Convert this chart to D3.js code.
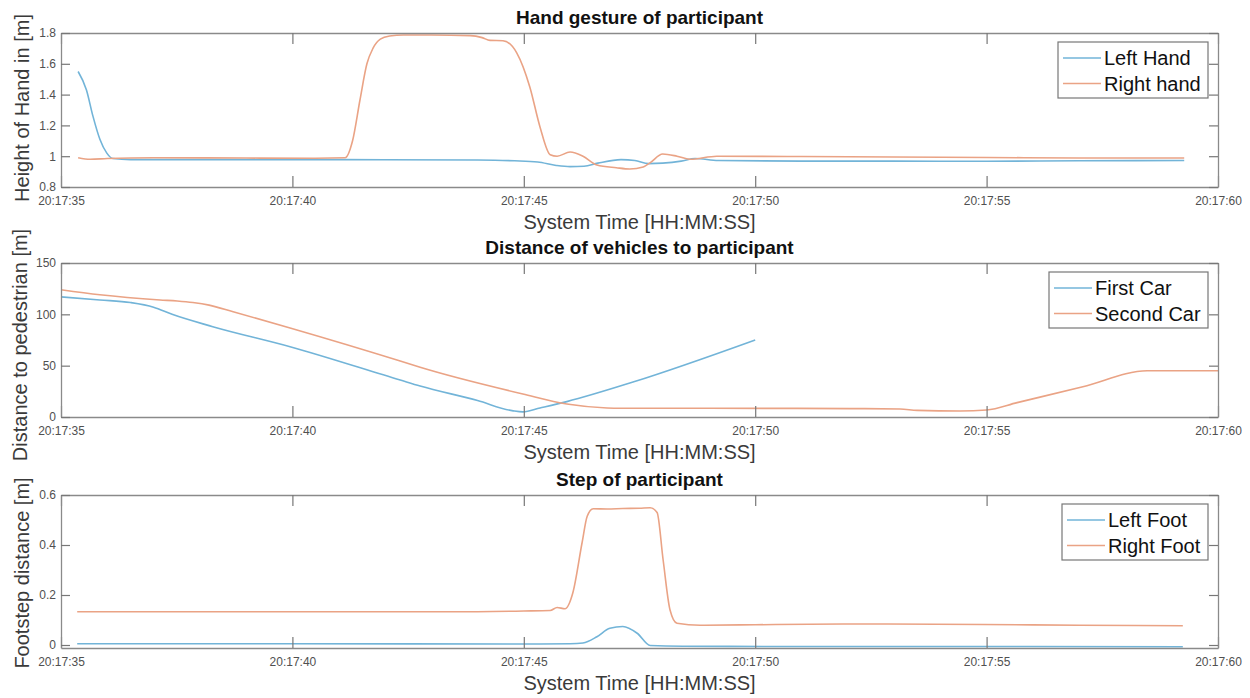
<!DOCTYPE html>
<html>
<head>
<meta charset="utf-8">
<script src="https://cdn.jsdelivr.net/npm/d3@7"></script>
<style>
  body { margin: 0; background: #fff; }
  svg { font-family: "Liberation Sans", Arial, sans-serif; }
</style>
</head>
<body>
<svg id="chart" width="1250" height="698"></svg>
<script>
'use strict';

// time in seconds after 20:17:35
var xTicks = [0, 5, 10, 15, 20, 25];

// hand gesture
var leftHandT = [0.37, 0.55, 0.69, 0.84, 0.99, 1.12, 1.5, 3, 5, 7, 9, 9.8, 10.3, 10.7, 11.0, 11.3, 11.6, 12.1, 12.4, 12.7, 13.0, 13.4, 13.7, 14.2, 16, 18, 20, 22, 24.27];
var leftHand = [1.55, 1.43, 1.26, 1.11, 1.02, 0.985, 0.978, 0.978, 0.978, 0.977, 0.975, 0.97, 0.962, 0.94, 0.932, 0.935, 0.955, 0.978, 0.972, 0.952, 0.955, 0.968, 0.985, 0.972, 0.968, 0.968, 0.967, 0.97, 0.972];
var rightHandT = [0.37, 0.63, 1.0, 2, 4, 5.5, 6.14, 6.3, 6.46, 6.61, 6.74, 6.9, 7.1, 7.4, 8, 8.84, 9.1, 9.27, 9.55, 9.85, 10.13, 10.35, 10.57, 10.72, 11.0, 11.28, 11.58, 12.0, 12.29, 12.58, 12.74, 13.0, 13.31, 13.59, 14.17, 16, 18, 20, 22, 24.27];
var rightHand = [0.99, 0.98, 0.985, 0.99, 0.988, 0.987, 0.99, 1.1, 1.365, 1.6, 1.7, 1.76, 1.78, 1.787, 1.787, 1.783, 1.77, 1.752, 1.75, 1.67, 1.45, 1.19, 1.01, 1.0, 1.027, 1.0, 0.943, 0.925, 0.917, 0.93, 0.96, 1.014, 1.0, 0.98, 1.0, 0.998, 0.995, 0.992, 0.988, 0.988];
var handTicks = [0.8, 1, 1.2, 1.4, 1.6, 1.8];

// distance of vehicles
var firstCarT = [0, 0.84, 1.5, 2.0, 2.4, 3.28, 4.95, 7.33, 7.76, 9.0, 9.77, 9.98, 10.35, 10.93, 12.36, 15.0];
var firstCar = [117, 114, 111.5, 107, 100, 88, 68.5, 36, 30.2, 16, 6, 5, 8.8, 15, 34, 75];
var secondCarT = [0, 0.84, 2.14, 2.51, 2.85, 3.2, 3.72, 4.95, 7.33, 7.76, 9.98, 10.93, 11.8, 12.08, 14, 17.05, 18.13, 18.5, 19.43, 20.0, 20.66, 22.08, 23.47, 25];
var secondCar = [124, 119, 114, 113, 111.5, 109, 102.5, 86.7, 54.5, 48.4, 22.4, 12.7, 8.8, 8.5, 8.5, 8.2, 7.8, 6.5, 5.8, 6.8, 14, 29.5, 45, 45];
var carTicks = [0, 50, 100, 150];

// footsteps
var leftFootT = [0.35, 5, 10, 11.0, 11.28, 11.58, 11.86, 12.14, 12.45, 12.73, 13.44, 16, 20, 24.24];
var leftFoot = [0.005, 0.005, 0.004, 0.005, 0.008, 0.033, 0.067, 0.074, 0.047, -0.002, -0.005, -0.006, -0.006, -0.007];
var rightFootT = [0.35, 3, 6, 8.41, 10.0, 10.57, 10.72, 10.89, 11.06, 11.26, 11.37, 11.5, 11.8, 12.14, 12.5, 12.73, 12.88, 13.01, 13.16, 13.31, 13.81, 15, 17.05, 19.92, 22, 24.24];
var rightFoot = [0.133, 0.133, 0.133, 0.133, 0.136, 0.138, 0.15, 0.145, 0.209, 0.41, 0.515, 0.545, 0.544, 0.546, 0.547, 0.549, 0.53, 0.341, 0.14, 0.087, 0.079, 0.081, 0.084, 0.082, 0.079, 0.077];
var footTicks = [0, 0.2, 0.4, 0.6];

var blue = "#72b4d8", orange = "#eaa385";
var left = 61, right = 1218;

var svg = d3.select("#chart");
var x = d3.scaleLinear().domain([0, 25]).range([left, right]);

function zip(t, v) { return t.map(function (d, i) { return [d, v[i]]; }); }

function panel(opt) {
  var y = d3.scaleLinear().domain(opt.domain).range([opt.bottom, opt.top]);
  var g = svg.append("g");

  g.append("rect")
    .attr("x", left).attr("y", opt.top)
    .attr("width", right - left).attr("height", opt.bottom - opt.top)
    .attr("fill", "#fff");

  var line = d3.line()
    .x(function (d) { return x(d[0]); })
    .y(function (d) { return y(d[1]); })
    .curve(d3.curveMonotoneX);

  opt.series.forEach(function (s) {
    g.append("path")
      .datum(zip(s.t, s.v))
      .attr("fill", "none")
      .attr("stroke", s.color)
      .attr("stroke-width", 1.6)
      .attr("d", line);
  });

  // axes, MATLAB style ticks pointing inward on all four sides
  var xb = d3.axisBottom(x).tickValues(xTicks).tickSizeInner(-11).tickSizeOuter(0)
    .tickFormat(function (d) { return "20:17:" + (35 + d); });
  var xt = d3.axisTop(x).tickValues(xTicks).tickSizeInner(-11).tickSizeOuter(0).tickFormat("");
  var yl = d3.axisLeft(y).tickValues(opt.ticks).tickSizeInner(-9).tickSizeOuter(0)
    .tickFormat(d3.format("~g"));
  var yr = d3.axisRight(y).tickValues(opt.ticks).tickSizeInner(-9).tickSizeOuter(0).tickFormat("");

  var ax = [
    g.append("g").attr("transform", "translate(0," + opt.bottom + ")").call(xb),
    g.append("g").attr("transform", "translate(0," + opt.top + ")").call(xt),
    g.append("g").attr("transform", "translate(" + left + ",0)").call(yl),
    g.append("g").attr("transform", "translate(" + right + ",0)").call(yr)
  ];
  ax.forEach(function (a) {
    a.select(".domain").attr("stroke", "#8a8a8a").attr("stroke-width", 1.3);
    a.selectAll(".tick line").attr("stroke", "#777").attr("stroke-width", 1.2);
    a.selectAll(".tick text").attr("fill", "#505050").style("font-size", "12px");
  });
  ax[0].selectAll(".tick text").attr("y", 9);
  ax[2].selectAll(".tick text").attr("x", -5);

  g.append("text")
    .attr("x", (left + right) / 2).attr("y", opt.top - 9)
    .attr("text-anchor", "middle")
    .attr("font-weight", "bold")
    .attr("font-size", 19)
    .attr("fill", "#111")
    .text(opt.title);

  g.append("text")
    .attr("x", (left + right) / 2).attr("y", opt.bottom + 42)
    .attr("text-anchor", "middle")
    .attr("font-size", 20)
    .attr("fill", "#3a3a3a")
    .text("System Time [HH:MM:SS]");

  g.append("text")
    .attr("transform", "translate(" + opt.ylx + "," + opt.yly + ") rotate(-90)")
    .attr("text-anchor", "middle")
    .attr("font-size", 20)
    .attr("fill", "#3a3a3a")
    .text(opt.ylabel);

  // legend
  var lg = g.append("g").attr("transform", "translate(" + opt.legX + "," + (opt.top + 9) + ")");
  lg.append("rect")
    .attr("width", 1208 - opt.legX).attr("height", 56)
    .attr("fill", "#fff").attr("stroke", "#777").attr("stroke-width", 1.2);
  opt.series.forEach(function (s, i) {
    var yy = 16 + i * 25.5;
    lg.append("line")
      .attr("x1", 5).attr("x2", 43).attr("y1", yy).attr("y2", yy)
      .attr("stroke", s.color).attr("stroke-width", 1.6);
    lg.append("text")
      .attr("x", 46).attr("y", yy + 7)
      .attr("font-size", 20).attr("fill", "#111")
      .text(s.name);
  });
}

panel({
  top: 33, bottom: 187, domain: [0.8, 1.8], ticks: handTicks,
  title: "Hand gesture of participant", ylabel: "Height of Hand in [m]",
  ylx: 29, yly: 108, legX: 1058,
  series: [
    { name: "Left Hand", t: leftHandT, v: leftHand, color: blue },
    { name: "Right hand", t: rightHandT, v: rightHand, color: orange }
  ]
});

panel({
  top: 263, bottom: 417, domain: [0, 150], ticks: carTicks,
  title: "Distance of vehicles to participant", ylabel: "Distance to pedestrian [m]",
  ylx: 27, yly: 345, legX: 1049,
  series: [
    { name: "First Car", t: firstCarT, v: firstCar, color: blue },
    { name: "Second Car", t: secondCarT, v: secondCar, color: orange }
  ]
});

panel({
  top: 495, bottom: 648, domain: [-0.012, 0.6], ticks: footTicks,
  title: "Step of participant", ylabel: "Footstep distance [m]",
  ylx: 29, yly: 573, legX: 1062,
  series: [
    { name: "Left Foot", t: leftFootT, v: leftFoot, color: blue },
    { name: "Right Foot", t: rightFootT, v: rightFoot, color: orange }
  ]
});
</script>
</body>
</html>
